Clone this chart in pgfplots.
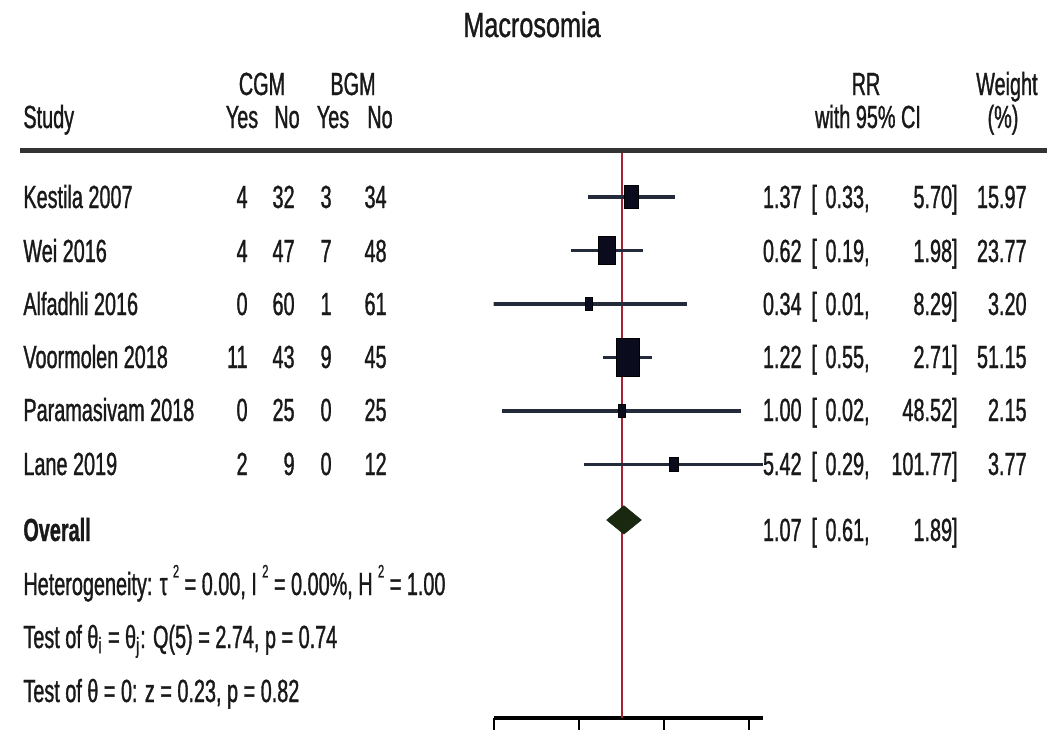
\documentclass[border=0pt]{standalone}
\usepackage{pgfplots}
\pgfplotsset{compat=1.18}
\usepackage{fontspec}
\setmainfont{Liberation Sans}[FakeStretch=0.62, FakeBold=1.0]
\newfontfamily\titlefont{Liberation Sans}[FakeStretch=0.72, FakeBold=1.0]
\definecolor{txt}{rgb}{0.1,0.1,0.1}
\definecolor{ciline}{RGB}{35,42,58}
\definecolor{sq}{RGB}{10,12,30}
\definecolor{refred}{RGB}{165,35,50}
\definecolor{dia}{RGB}{25,40,15}
\newcommand{\sq}{\raisebox{0.55em}{\fontsize{9}{10}\selectfont 2}}
\begin{document}
\begin{tikzpicture}[every node/.style={inner sep=0pt, text=txt, font=\fontsize{16}{19}\selectfont}]
\useasboundingbox (0pt,0pt) rectangle (527.5pt,-364.5pt);
\begin{axis}[
  at={(246.75pt,-359pt)}, anchor=south west,
  scale only axis, width=135pt, height=283pt,
  xmode=log, xmin=0.0152, xmax=101.77,
  ymin=0.1589, ymax=10.738, y dir=reverse,
  axis x line*=bottom, axis y line=none,
  xtick={0.015625,0.25,4,64}, xticklabels={}, minor xtick={},
  ytick=\empty,
  xtick align=outside, major tick length=6pt,
  tick style={line width=0.9pt, black},
  axis line style={line width=1.6pt, black},
  clip=true,
]
% reference line at RR = 1
\addplot[refred, line width=0.9pt] coordinates {(1,0.1589) (1,10.738)};
% confidence intervals
\addplot[ciline, line width=1.7pt] coordinates {(0.33,1) (5.70,1)};
\addplot[ciline, line width=1.7pt] coordinates {(0.19,2) (1.98,2)};
\addplot[ciline, line width=1.7pt] coordinates {(0.01,3) (8.29,3)};
\addplot[ciline, line width=1.7pt] coordinates {(0.55,4) (2.71,4)};
\addplot[ciline, line width=1.7pt] coordinates {(0.02,5) (48.52,5)};
\addplot[ciline, line width=1.7pt] coordinates {(0.29,6) (101.77,6)};
% point estimates (size by weight)
\addplot[only marks, mark=square*, mark size=5.9pt, mark options={xscale=0.58, fill=sq, draw=none}] coordinates {(1.37,1)};
\addplot[only marks, mark=square*, mark size=7.1pt, mark options={xscale=0.6, fill=sq, draw=none}] coordinates {(0.62,2)};
\addplot[only marks, mark=square*, mark size=3.4pt, mark options={xscale=0.55, fill=sq, draw=none}] coordinates {(0.34,3)};
\addplot[only marks, mark=square*, mark size=9.6pt, mark options={xscale=0.61, fill=sq, draw=none}] coordinates {(1.22,4)};
\addplot[only marks, mark=square*, mark size=3.1pt, mark options={xscale=0.55, fill=sq, draw=none}] coordinates {(1.00,5)};
\addplot[only marks, mark=square*, mark size=3.6pt, mark options={xscale=0.62, fill=sq, draw=none}] coordinates {(5.42,6)};
% overall diamond
\addplot[fill=dia, draw=dia, line width=0.3pt] coordinates {(0.61,7.037) (1.07,6.77) (1.89,7.037) (1.07,7.30) (0.61,7.037)};
\end{axis}
\begin{scope}[x=0.5pt, y=-0.5pt]
\node[anchor=base, font=\titlefont\fontsize{17.5}{20}\selectfont] at (532,37) {Macrosomia};
% header
\node[anchor=base] at (262,95) {CGM};
\node[anchor=base] at (353,95) {BGM};
\node[anchor=base] at (866,95) {RR};
\node[anchor=base east] at (1038,95) {Weight};
\node[anchor=base west] at (23,128) {Study};
\node[anchor=base] at (242,128) {Yes};
\node[anchor=base] at (287,128) {No};
\node[anchor=base] at (333,128) {Yes};
\node[anchor=base] at (380,128) {No};
\node[anchor=base] at (868,128) {with 95\% CI};
\node[anchor=base] at (1003,128) {(\%)};
\draw[line width=2.4pt, black!80] (20,150.5) -- (1047,150.5);
% rows
\foreach \yb/\name/\a/\b/\c/\d/\rr/\lo/\hi/\w in {
  208/Kestila 2007/4/32/3/34/1.37/0.33/5.70/15.97,
  262/Wei 2016/4/47/7/48/0.62/0.19/1.98/23.77,
  315/Alfadhli 2016/0/60/1/61/0.34/0.01/8.29/3.20,
  368/Voormolen 2018/11/43/9/45/1.22/0.55/2.71/51.15,
  421/Paramasivam 2018/0/25/0/25/1.00/0.02/48.52/2.15,
  475/Lane 2019/2/9/0/12/5.42/0.29/101.77/3.77}{
  \node[anchor=base west] at (23,\yb) {\name};
  \node[anchor=base east] at (248,\yb) {\a};
  \node[anchor=base east] at (295,\yb) {\b};
  \node[anchor=base east] at (332,\yb) {\c};
  \node[anchor=base east] at (387,\yb) {\d};
  \node[anchor=base east] at (802,\yb) {\rr};
  \node[anchor=base west] at (811,\yb) {[};
  \node[anchor=base east] at (870,\yb) {\lo,};
  \node[anchor=base east] at (958,\yb) {\hi]};
  \node[anchor=base east] at (1027,\yb) {\w};
}
\node[anchor=base west] at (23,541) {\bfseries Overall};
\node[anchor=base east] at (802,541) {1.07};
\node[anchor=base west] at (811,541) {[};
\node[anchor=base east] at (870,541) {0.61,};
\node[anchor=base east] at (958,541) {1.89]};
% heterogeneity and tests
\node[anchor=base west] at (23,595) {Heterogeneity: τ\,\sq\ = 0.00, I\,\sq\ = 0.00\%, H\,\sq\ = 1.00};
\node[anchor=base west] at (23,648) {Test of θ\textsubscript{i} = θ\textsubscript{j}: Q(5) = 2.74, p = 0.74};
\node[anchor=base west] at (23,702) {Test of θ = 0: z = 0.23, p = 0.82};
\end{scope}
\end{tikzpicture}
\end{document}
